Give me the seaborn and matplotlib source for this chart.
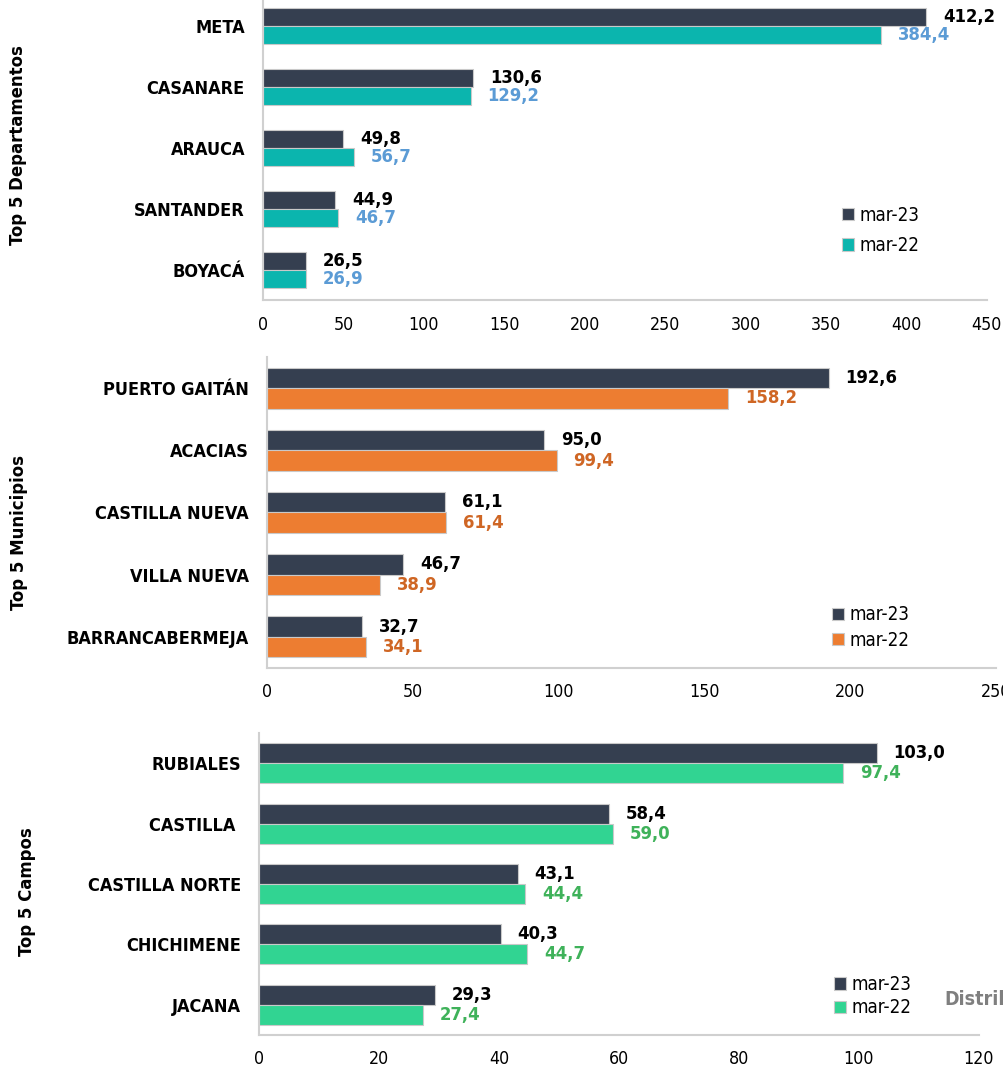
import matplotlib
matplotlib.use("Agg")
import matplotlib.pyplot as plt
import numpy as np
import pandas as pd
import seaborn as sns

# Data
series = ["mar-23", "mar-22"]

dept_names = ["META", "CASANARE", "ARAUCA", "SANTANDER", "BOYACÁ"]
dept_mar23 = [412.2, 130.6, 49.8, 44.9, 26.5]
dept_mar22 = [384.4, 129.2, 56.7, 46.7, 26.9]

muni_names = ["PUERTO GAITÁN", "ACACIAS", "CASTILLA NUEVA", "VILLA NUEVA", "BARRANCABERMEJA"]
muni_mar23 = [192.6, 95.0, 61.1, 46.7, 32.7]
muni_mar22 = [158.2, 99.4, 61.4, 38.9, 34.1]

campo_names = ["RUBIALES", "CASTILLA ", "CASTILLA NORTE", "CHICHIMENE", "JACANA"]
campo_mar23 = [103.0, 58.4, 43.1, 40.3, 29.3]
campo_mar22 = [97.4, 59.0, 44.4, 44.7, 27.4]

sns.set_style("white")
plt.rcParams["font.family"] = ["DejaVu Sans"]
plt.rcParams["font.stretch"] = "condensed"
plt.rcParams["text.color"] = "black"
plt.rcParams["xtick.color"] = "black"
plt.rcParams["ytick.color"] = "black"

DARK = "#353f50"

panels = [
    dict(names=dept_names, a=dept_mar23, b=dept_mar22, color="#0bb5ae", lab="#5b9bd5",
         title="Top 5 Departamentos", xmax=450, step=50, width=0.59,
         pos=[0.262, 0.7192, 0.721, 0.285], leg=(0.789, 0.23), lsp=0.62,
         ylab=(0.018, 0.8645)),
    dict(names=muni_names, a=muni_mar23, b=muni_mar22, color="#ed7d31", lab="#cf6624",
         title="Top 5 Municipios", xmax=250, step=50, width=0.66,
         pos=[0.266, 0.3757, 0.726, 0.2907], leg=(0.765, 0.13), lsp=0.33,
         ylab=(0.019, 0.502)),
    dict(names=campo_names, a=campo_mar23, b=campo_mar22, color="#31d492", lab="#3fb25a",
         title="Top 5 Campos", xmax=120, step=20, width=0.66,
         pos=[0.258, 0.0327, 0.717, 0.2822], leg=(0.788, 0.128), lsp=0.22,
         ylab=(0.027, 0.167)),
]

fig = plt.figure(figsize=(10.04, 10.7), dpi=100)

for p in panels:
    df = pd.DataFrame({
        "cat": p["names"] * 2,
        "serie": [series[0]] * 5 + [series[1]] * 5,
        "valor": p["a"] + p["b"],
    })
    ax = fig.add_axes(p["pos"])
    sns.barplot(data=df, y="cat", x="valor", hue="serie", hue_order=series,
                palette=[DARK, p["color"]], orient="h", width=p["width"],
                edgecolor="#c9c9c9", linewidth=0.8, saturation=1, ax=ax)

    for cont, col in zip(ax.containers, ["black", p["lab"]]):
        labels = [f"{v:.1f}".replace(".", ",") for v in cont.datavalues]
        ax.bar_label(cont, labels=labels, padding=12, color=col,
                     fontsize=13.2, fontweight="bold")

    ax.set_xlim(0, p["xmax"])
    ax.set_xticks(np.arange(0, p["xmax"] + 1, p["step"]))
    ax.set_xlabel("")
    ax.set_ylabel("")
    ax.tick_params(axis="x", length=0, pad=11, labelsize=12.8)
    ax.tick_params(axis="y", length=0, pad=13, labelsize=13)
    for t in ax.get_yticklabels():
        t.set_fontweight("bold")
    sns.despine(ax=ax)
    for s in ["left", "bottom"]:
        ax.spines[s].set_color("#d0d0d0")
        ax.spines[s].set_linewidth(1.5)

    ax.legend(loc="center left", bbox_to_anchor=p["leg"], frameon=False,
              fontsize=13.5, handlelength=0.65, handleheight=0.65,
              handletextpad=0.3, labelspacing=p["lsp"], borderaxespad=0)

    fig.text(p["ylab"][0], p["ylab"][1], p["title"], rotation=90,
             ha="center", va="center", fontsize=13.2, fontweight="bold")

fig.text(0.941, 0.0655, "Distribución", color="#7f7f7f", fontsize=14,
         fontweight="bold", ha="left", va="center")

fig.savefig("out.png", dpi=100)
